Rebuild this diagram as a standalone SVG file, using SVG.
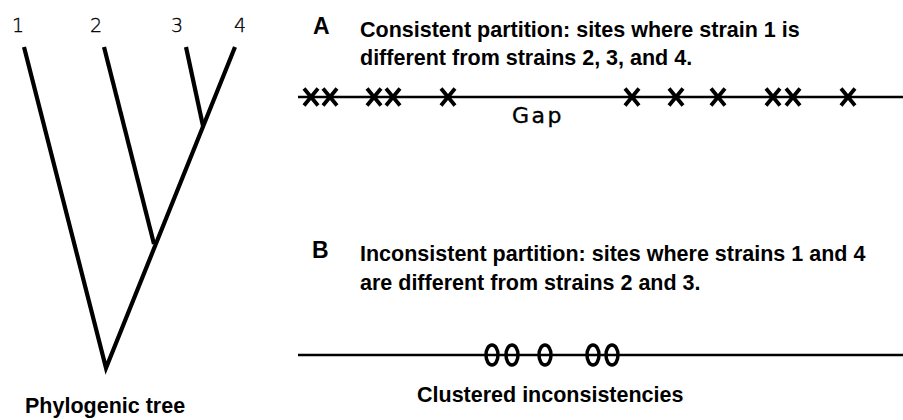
<svg xmlns="http://www.w3.org/2000/svg" width="903" height="420" viewBox="0 0 903 420">
  <style>
    .branch { stroke: #000; stroke-width: 4.2; stroke-linecap: butt; fill: none; }
    .leaf { font-family: "DejaVu Sans", "Liberation Sans", sans-serif; font-size: 19px; font-weight: 200; fill: #000; stroke: #000; stroke-width: 0.35; }
    .head { font-family: "Liberation Sans", Arial, sans-serif; font-size: 23px; font-weight: bold; fill: #000; }
    .body { font-family: "Liberation Sans", Arial, sans-serif; font-size: 21.5px; font-weight: bold; fill: #000; }
    .seq { stroke: #000; stroke-width: 2.5; fill: none; }
    .x { stroke: #000; stroke-width: 3.8; fill: none; }
    .o { stroke: #000; stroke-width: 3.5; fill: none; }
    .gap { font-family: "DejaVu Sans", "Liberation Sans", sans-serif; font-size: 22px; letter-spacing: 2.5px; fill: #000; stroke: #000; stroke-width: 0.35; }
  </style>
  <defs>
    <path id="xmark" d="M-7,-8.5 L7,8.5 M7,-8.5 L-7,8.5"/>
    <ellipse id="omark" cx="0" cy="0" rx="6" ry="10"/>
  </defs>
  <rect width="903" height="420" fill="#fff"/>

  <!-- phylogenetic tree -->
  <g id="tree">
    <path class="branch" d="M24,47 L106,368 L235,47"/>
    <path class="branch" d="M104,47 L154,244"/>
    <path class="branch" d="M186,47 L203,126"/>
    <text class="leaf" x="12" y="32">1</text>
    <text class="leaf" x="90" y="32">2</text>
    <text class="leaf" x="171" y="32">3</text>
    <text class="leaf" x="234" y="32">4</text>
    <text class="body" x="25" y="413">Phylogenic tree</text>
  </g>

  <!-- panel A: consistent partition -->
  <g id="panel-a">
    <text class="head" x="313" y="34">A</text>
    <text class="body" x="360" y="37">Consistent partition: sites where strain 1 is</text>
    <text class="body" x="360" y="65">different from strains 2, 3, and 4.</text>
    <line class="seq" x1="298" y1="97" x2="903" y2="97"/>
    <g class="x">
      <use href="#xmark" x="311" y="97"/>
      <use href="#xmark" x="330" y="97"/>
      <use href="#xmark" x="374" y="97"/>
      <use href="#xmark" x="393" y="97"/>
      <use href="#xmark" x="448" y="97"/>
      <use href="#xmark" x="632" y="97"/>
      <use href="#xmark" x="676" y="97"/>
      <use href="#xmark" x="718" y="97"/>
      <use href="#xmark" x="773" y="97"/>
      <use href="#xmark" x="793" y="97"/>
      <use href="#xmark" x="848" y="97"/>
    </g>
    <text class="gap" x="512" y="123">Gap</text>
  </g>

  <!-- panel B: inconsistent partition -->
  <g id="panel-b">
    <text class="head" x="312" y="258">B</text>
    <text class="body" x="360" y="261">Inconsistent partition: sites where strains 1 and 4</text>
    <text class="body" x="360" y="290">are different from strains 2 and 3.</text>
    <line class="seq" x1="298" y1="355" x2="903" y2="355"/>
    <g class="o">
      <use href="#omark" x="492" y="355"/>
      <use href="#omark" x="512" y="355"/>
      <use href="#omark" x="545" y="355"/>
      <use href="#omark" x="593" y="355"/>
      <use href="#omark" x="612" y="355"/>
    </g>
    <text class="body" x="417" y="402">Clustered inconsistencies</text>
  </g>
</svg>
